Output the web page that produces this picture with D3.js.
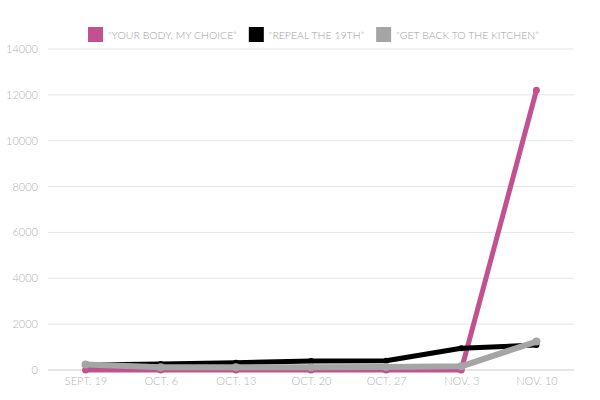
<!DOCTYPE html>
<html><head><meta charset="utf-8">
<script src="https://cdn.jsdelivr.net/npm/d3@7"></script>
<style>
body{margin:0;background:#fff;}
text{font-family:"Lato","Roboto",sans-serif;font-weight:300;}
</style></head>
<body><svg id="c" width="600" height="400"></svg>
<script>
const categories = ["SEPT. 19","OCT. 6","OCT. 13","OCT. 20","OCT. 27","NOV. 3","NOV. 10"];
const seriesNames = ["\u201CYOUR BODY, MY CHOICE\u201D","\u201CREPEAL THE 19TH\u201D","\u201CGET BACK TO THE KITCHEN\u201D"];
const bodyChoice = [0,0,0,0,0,0,12200];
const repeal19 = [220,260,320,390,400,950,1090];
const kitchen = [240,120,120,120,130,160,1240];
const yTicks = [0,2000,4000,6000,8000,10000,12000,14000];
const colors = ["#c2528f","#000000","#a5a5a5"];

const svg = d3.select("#c");
const mLeft=48,mRight=574,mTop=49,mBottom=370;
const x = d3.scalePoint().domain(categories).range([mLeft,mRight]).padding(0.5);
const y = d3.scaleLinear().domain([0,14000]).range([mBottom,mTop]);

// grid
svg.append("g").selectAll("line").data(yTicks.filter(d=>d>0)).join("line")
  .attr("x1",mLeft).attr("x2",mRight).attr("y1",d=>y(d)).attr("y2",d=>y(d))
  .attr("stroke","#e6e6e6").attr("stroke-width",1);
svg.append("line").attr("x1",mLeft).attr("x2",mRight).attr("y1",y(0)).attr("y2",y(0))
  .attr("stroke","#cccccc").attr("stroke-width",1);

// y axis labels
const ya = svg.append("g").attr("transform",`translate(${mLeft},0)`)
  .call(d3.axisLeft(y).tickValues(yTicks).tickFormat(d3.format("d")).tickSize(0).tickPadding(10));
ya.select(".domain").remove();
ya.selectAll("text").attr("fill","#b3b3b3").style("font-size","11px").style("font-family","Lato, Roboto, sans-serif").style("font-weight","300");

// x axis labels
const xa = svg.append("g").attr("transform",`translate(0,${mBottom})`)
  .call(d3.axisBottom(x).tickSize(0).tickPadding(7));
xa.select(".domain").remove();
xa.selectAll("text").attr("fill","#b3b3b3").style("font-size","11px").style("font-family","Lato, Roboto, sans-serif").style("font-weight","300");

const series = [
  {vals:bodyChoice,color:colors[0],w:5,r:3.5},
  {vals:repeal19,color:colors[1],w:5,r:3},
  {vals:kitchen,color:colors[2],w:6,r:4}
];
const line = d3.line().x((d,i)=>x(categories[i])).y(d=>y(d));
series.forEach(s=>{
  svg.append("path").datum(s.vals).attr("d",line).attr("fill","none")
    .attr("stroke",s.color).attr("stroke-width",s.w).attr("stroke-linejoin","round");
  svg.append("g").selectAll("circle").data(s.vals).join("circle")
    .attr("cx",(d,i)=>x(categories[i])).attr("cy",d=>y(d)).attr("r",s.r).attr("fill",s.color);
});

// legend
const leg = svg.append("g");
let lx = 88;
seriesNames.forEach((n,i)=>{
  leg.append("rect").attr("x",lx).attr("y",27).attr("width",15).attr("height",15).attr("fill",colors[i]);
  const t = leg.append("text").attr("x",lx+20).attr("y",39).text(n)
    .attr("fill","#a0a0a0").style("font-size","10.5px");
  lx += 20 + t.node().getComputedTextLength() + 12;
});
</script></body></html>
